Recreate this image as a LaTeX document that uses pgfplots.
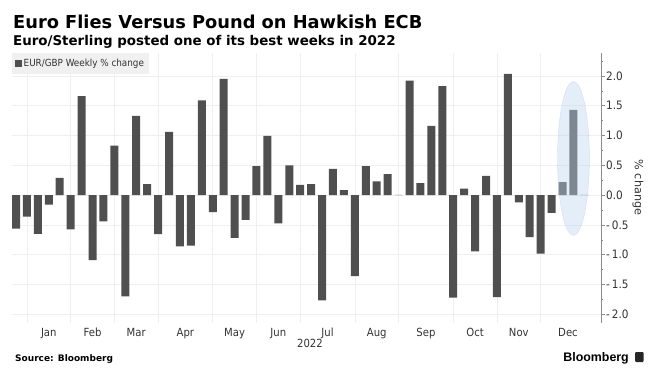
\documentclass[border=0pt]{standalone}
\usepackage{pgfplots}
\pgfplotsset{compat=1.18}
\usepackage{pgfplotstable}
\usepackage{fontspec}
\setmainfont{DejaVu Sans Condensed}
\newfontfamily\titlefont{DejaVu Sans}[BoldFont={DejaVu Sans Bold}]
\newfontfamily\logofont{Liberation Sans}
\definecolor{bar}{HTML}{4F4F4F}
\definecolor{gridc}{HTML}{EFEFEF}
\definecolor{txt}{HTML}{333333}
\definecolor{halo}{HTML}{BED6F0}
\pgfplotstableread{
i v
0 -0.56
1 -0.36
2 -0.65
3 -0.16
4 0.29
5 -0.575
6 1.66
7 -1.09
8 -0.44
9 0.83
10 -1.70
11 1.33
12 0.185
13 -0.655
14 1.06
15 -0.86
16 -0.845
17 1.59
18 -0.285
19 1.95
20 -0.715
21 -0.415
22 0.487
23 0.995
24 -0.475
25 0.50
26 0.173
27 0.185
28 -1.767
29 0.44
30 0.084
31 -1.36
32 0.487
33 0.23
34 0.352
35 0.005
36 1.92
37 0.20
38 1.163
39 1.83
40 -1.72
41 0.11
42 -0.945
43 0.325
44 -1.71
45 2.035
46 -0.12
47 -0.705
48 -0.98
49 -0.296
50 0.218
51 1.43
52 0.005
}\weekly
\begin{document}
\begin{tikzpicture}[x=1pt,y=1pt]
\path[use as bounding box] (0,0) rectangle (656,376);
\begin{axis}[
  at={(12pt,53.3pt)}, anchor=south west,
  scale only axis, width=589pt, height=270pt,
  xmin=-0.366, xmax=53.52, ymin=-2.14, ymax=2.39,
  axis y line*=right, axis x line*=bottom,
  x axis line style={draw=none,-},
  y axis line style={draw=gray!90,line width=0.8pt,-},
  clip=true,
  xtick={3,7,11,15.5,20,24,28.5,33,37.5,42,46,50.5},
  xticklabels={Jan,Feb,Mar,Apr,May,Jun,Jul,Aug,Sep,Oct,Nov,Dec},
  minor xtick={1,5,9,13,18,22,26,31,35,40,44,48},
  xminorgrids,
  x tick style={draw=none},
  xticklabel style={font=\fontsize{11.2}{12}\selectfont, text=txt, text height=8.2pt, text depth=0pt, inner ysep=0pt, yshift=-1.5pt},
  ytick={-2,-1.5,-1,-0.5,0,0.5,1,1.5,2},
  yticklabels={-\,2.0,-\,1.5,-\,1.0,-\,0.5,0.0,0.5,1.0,1.5,2.0},
  minor ytick={-1.75,-1.25,-0.75,-0.25,0.25,0.75,1.25,1.75,2.25},
  ymajorgrids, grid style={gridc,line width=0.7pt},
  minor grid style={gridc,line width=0.7pt},
  y tick style={color=gray!90, line width=0.6pt},
  major tick length=3.5pt, minor tick length=2pt,
  tick align=outside,
  yticklabel style={font=\fontsize{11.6}{12}\selectfont, text=txt, anchor=west, inner xsep=0pt, xshift=1.5pt},
  legend style={at={(0,1)},anchor=north west,fill=black!6,draw=none,
     font=\fontsize{9.8}{10}\selectfont, text=txt, inner xsep=3pt, inner ysep=4pt,
     legend cell align=left},
  legend image code/.code={\fill[bar] (2pt,-3.2pt) rectangle (8.5pt,3.2pt);},
]
\addplot[ybar, bar width=8pt, bar shift=0pt, fill=bar, draw=none] table[x=i,y=v] {\weekly};
\addlegendentry{EUR/GBP Weekly \% change}
\draw[halo!80!blue!70,line width=0.4pt,fill=halo,fill opacity=0.42,draw opacity=.5]
  (axis cs:51,0.615) ellipse [x radius=1.46, y radius=1.292];
\end{axis}
\node[text=txt,font=\fontsize{11.2}{12}\selectfont] at (310,33) {2022};
\node[text=txt,font=\titlefont\fontsize{11.2}{12}\selectfont,rotate=-90] at (638,188.5) {\% change};
\node[anchor=base west,inner sep=0pt,font=\titlefont\bfseries\fontsize{17.8}{18}\selectfont] at (13,348) {Euro Flies Versus Pound on Hawkish ECB};
\node[anchor=base west,inner sep=0pt,font=\titlefont\bfseries\fontsize{13.4}{15}\selectfont] at (13,330.3) {Euro/Sterling posted one of its best weeks in 2022};
\node[anchor=base west,inner sep=0pt,font=\titlefont\bfseries\fontsize{9}{11}\selectfont] at (15,14.5) {Source: Bloomberg};
\node[anchor=base east,inner sep=0pt,font=\logofont\bfseries\fontsize{12.4}{15}\selectfont] at (629,14.5) {Bloomberg};
\fill[black!85,rounded corners=1pt] (635,14) rectangle (643.5,24);
\end{tikzpicture}
\end{document}
